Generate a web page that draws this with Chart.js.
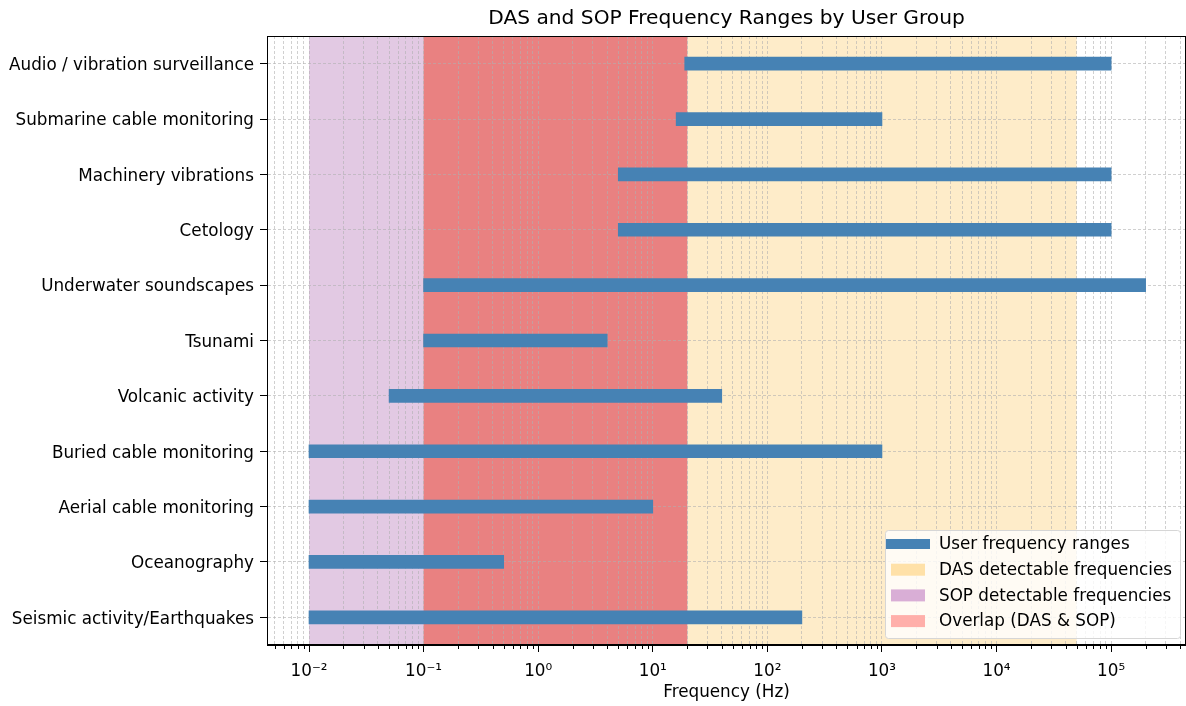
<!DOCTYPE html>
<html lang="en">
<head>
    <meta charset="UTF-8">
    <title>DAS and SOP Frequency Ranges by User Group</title>
    <style>
        body { margin: 0; padding: 0; background-color: #fff; overflow: hidden; }
        #wrap { position: relative; width: 1186px; height: 706px; }
    </style>
</head>
<body>
<div id="wrap"><canvas id="rangeChart"></canvas></div>

<script src="https://cdn.jsdelivr.net/npm/chart.js"></script>
<script>
    // user groups, top to bottom, with their frequency ranges (Hz)
    var groups = ['Audio / vibration surveillance', 'Submarine cable monitoring', 'Machinery vibrations',
        'Cetology', 'Underwater soundscapes', 'Tsunami', 'Volcanic activity', 'Buried cable monitoring',
        'Aerial cable monitoring', 'Oceanography', 'Seismic activity/Earthquakes'];
    var lowFreq = [19, 16, 5, 5, 0.1, 0.1, 0.05, 0.01, 0.01, 0.01, 0.01];
    var highFreq = [1e5, 1e3, 1e5, 1e5, 2e5, 4, 40, 1e3, 10, 0.5, 200];

    // detectable bands (Hz)
    var dasRange = [0.1, 5e4];
    var sopRange = [0.01, 20];
    var overlapRange = [0.1, 20];

    // x axis ticks
    var decadeTicks = [0.001, 0.01, 0.1, 1, 10, 100, 1000, 1e4, 1e5];
    var decadeLabels = ['10⁻³', '10⁻²', '10⁻¹', '10⁰', '10¹', '10²', '10³', '10⁴', '10⁵'];
    var xMin = 0.0043, xMax = 4.5e5;

    var font = "'DejaVu Sans', sans-serif";
    var gridColor = 'rgba(176,176,176,0.85)';

    var ranges = groups.map(function (g, i) { return [lowFreq[i], highFreq[i]]; });

    // shaded frequency bands behind the grid
    var bandsPlugin = {
        id: 'bands',
        beforeDraw: function (chart) {
            var x = chart.scales.x, a = chart.chartArea, ctx = chart.ctx;
            var bands = [
                [dasRange, '#feecc9'],
                [sopRange, '#e2c9e3'],
                [overlapRange, '#e98181']
            ];
            ctx.save();
            ctx.beginPath();
            ctx.rect(a.left, a.top, a.right - a.left, a.bottom - a.top);
            ctx.clip();
            bands.forEach(function (b) {
                var x0 = x.getPixelForValue(b[0][0]);
                var x1 = x.getPixelForValue(b[0][1]);
                ctx.fillStyle = b[1];
                ctx.fillRect(x0, a.top, x1 - x0, a.bottom - a.top);
            });
            ctx.restore();
        }
    };

    // frame box, short minor ticks and legend on top
    var framePlugin = {
        id: 'frame',
        afterDraw: function (chart) {
            var a = chart.chartArea, ctx = chart.ctx, x = chart.scales.x;
            ctx.save();
            ctx.strokeStyle = '#000';
            ctx.lineWidth = 1;
            ctx.strokeRect(Math.round(a.left) + 0.5, Math.round(a.top) + 0.5,
                Math.round(a.right - a.left) - 1, Math.round(a.bottom - a.top) - 1);

            ctx.beginPath();
            x.ticks.forEach(function (t) {
                if (t.major) return;
                var px = Math.round(x.getPixelForValue(t.value)) + 0.5;
                ctx.moveTo(px, a.bottom);
                ctx.lineTo(px, a.bottom + 4);
            });
            ctx.stroke();

            var w = 295, h = 108;
            var L = a.right - 6 - w, T = a.bottom - 7 - h;
            ctx.beginPath();
            ctx.roundRect(L + 0.5, T + 0.5, w, h, 3);
            ctx.fillStyle = 'rgba(255,255,255,0.8)';
            ctx.fill();
            ctx.strokeStyle = '#d6d6d6';
            ctx.stroke();

            var items = [
                ['User frequency ranges', 'line', '#4682b4'],
                ['DAS detectable frequencies', 'patch', '#ffe1a8'],
                ['SOP detectable frequencies', 'patch', '#d9aed6'],
                ['Overlap (DAS & SOP)', 'patch', '#ffafaa']
            ];
            ctx.font = '16.8px ' + font;
            ctx.textBaseline = 'middle';
            ctx.textAlign = 'left';
            items.forEach(function (it, i) {
                var cy = T + 14 + i * 25.7;
                ctx.fillStyle = it[2];
                if (it[1] === 'line') {
                    ctx.fillRect(L + 1, cy - 5, 44, 10);
                } else {
                    ctx.fillRect(L + 6, cy - 6, 34, 12);
                }
                ctx.fillStyle = '#000';
                ctx.fillText(it[0], L + 54, cy + 1);
            });
            ctx.restore();
        }
    };

    var ctx1 = document.getElementById('rangeChart').getContext('2d');
    var rangeChart = new Chart(ctx1, {
        type: 'bar',
        data: {
            labels: groups,
            datasets: [{
                label: 'User frequency ranges',
                data: ranges,
                backgroundColor: '#4682b4',
                borderWidth: 0,
                barThickness: 13
            }]
        },
        options: {
            indexAxis: 'y',
            responsive: true,
            maintainAspectRatio: false,
            animation: false,
            layout: { padding: 0 },
            plugins: {
                legend: { display: false },
                tooltip: { enabled: false }
            },
            scales: {
                x: {
                    type: 'logarithmic',
                    position: 'bottom',
                    min: xMin,
                    max: xMax,
                    afterBuildTicks: function (scale) {
                        var ticks = [];
                        decadeTicks.forEach(function (d) {
                            for (var k = 1; k <= 9; k++) {
                                var v = d * k;
                                if (v >= xMin && v <= xMax) ticks.push({ value: v, major: k === 1 });
                            }
                        });
                        scale.ticks = ticks;
                    },
                    afterFit: function (scale) {
                        scale.height = 61;
                        scale.paddingLeft = 0;
                        scale.paddingRight = 0;
                    },
                    ticks: {
                        autoSkip: false,
                        maxRotation: 0,
                        padding: 10,
                        color: '#000',
                        font: { family: font, size: 16.8 },
                        callback: function (value) {
                            for (var i = 0; i < decadeTicks.length; i++) {
                                if (Math.abs(Math.log10(value) - Math.log10(decadeTicks[i])) < 1e-6) return decadeLabels[i];
                            }
                            return '';
                        }
                    },
                    grid: {
                        color: gridColor,
                        lineWidth: 0.7,
                        tickLength: 7,
                        tickColor: function (c) { return c.tick && c.tick.major ? '#000' : 'rgba(0,0,0,0)'; },
                        tickWidth: 1,
                        tickBorderDash: []
                    },
                    border: { display: true, color: '#000', width: 1, dash: [3, 2] },
                    title: {
                        display: true,
                        text: 'Frequency (Hz)',
                        color: '#000',
                        font: { family: font, size: 16.8 },
                        padding: { top: 0, bottom: 3 }
                    }
                },
                x2: {
                    type: 'linear',
                    position: 'top',
                    min: 0,
                    max: 1,
                    afterFit: function (scale) {
                        scale.height = 36;
                        scale.paddingLeft = 0;
                        scale.paddingRight = 0;
                    },
                    ticks: { display: false },
                    grid: { display: false, drawTicks: false },
                    border: { display: false },
                    title: {
                        display: true,
                        text: 'DAS and SOP Frequency Ranges by User Group',
                        color: '#000',
                        font: { family: font, size: 20.2 },
                        padding: { top: 7, bottom: 0 }
                    }
                },
                y: {
                    type: 'category',
                    offset: true,
                    afterFit: function (scale) { scale.width = 267; },
                    ticks: {
                        padding: 6,
                        labelOffset: 2,
                        color: '#000',
                        font: { family: font, size: 16.8 }
                    },
                    grid: {
                        offset: false,
                        color: gridColor,
                        lineWidth: 0.7,
                        tickLength: 7,
                        tickColor: '#000',
                        tickWidth: 1,
                        tickBorderDash: []
                    },
                    border: { display: true, color: '#000', width: 1, dash: [3, 2] }
                }
            }
        },
        plugins: [bandsPlugin, framePlugin]
    });
</script>
</body>
</html>
